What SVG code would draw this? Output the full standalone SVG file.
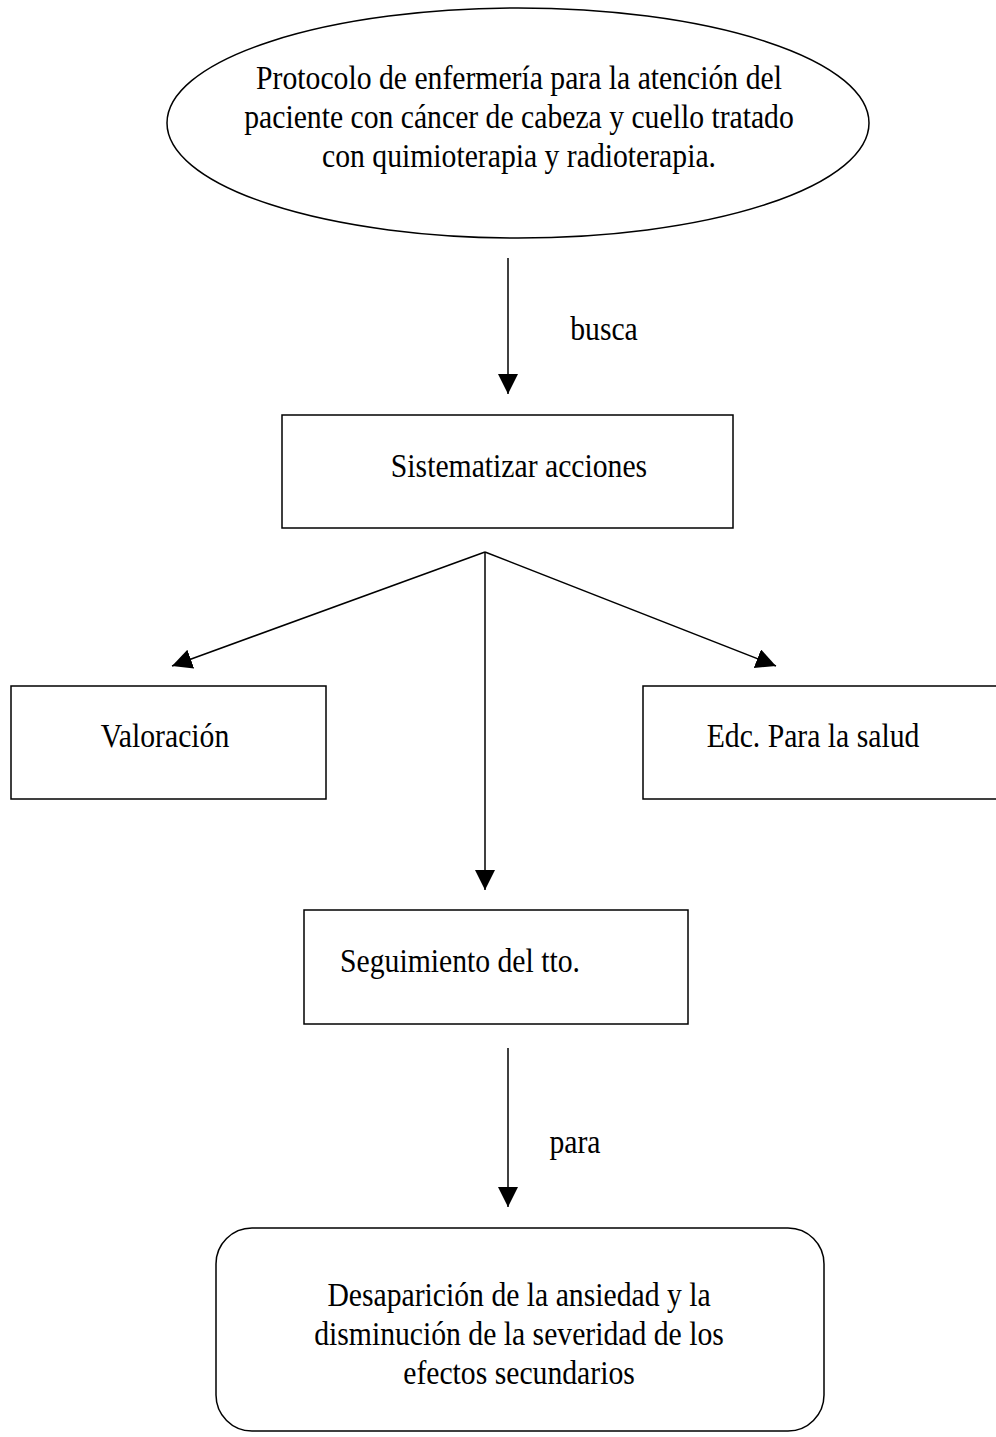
<svg xmlns="http://www.w3.org/2000/svg" width="996" height="1437" viewBox="0 0 996 1437">
<style>
.s{fill:#fff;stroke:#000;stroke-width:1.5}
.t{font-family:"Liberation Serif","Times New Roman",serif;font-size:33px;fill:#000;text-anchor:middle}
.c{stroke:#000;stroke-width:1.5;fill:none;marker-end:url(#ah)}
</style>
<defs>
<marker id="ah" markerUnits="userSpaceOnUse" markerWidth="20" markerHeight="24" refX="20" refY="10" orient="auto">
<path d="M0,0 L20,10 L0,20 Z" fill="#000"/>
</marker>
</defs>
<rect width="996" height="1437" fill="#fff"/>
<g id="connectors">
<line class="c" x1="508" y1="258" x2="508" y2="394"/>
<line class="c" x1="485" y1="552" x2="172" y2="666"/>
<line class="c" x1="485" y1="552" x2="776" y2="666"/>
<line class="c" x1="485" y1="552" x2="485" y2="890"/>
<line class="c" x1="508" y1="1048" x2="508" y2="1207"/>
<text class="t" transform="translate(604,340) scale(0.9,1)">busca</text>
<text class="t" transform="translate(575,1153) scale(0.9,1)">para</text>
</g>
<g id="protocolo">
<ellipse class="s" cx="518" cy="123" rx="351" ry="115"/>
<text class="t" transform="translate(519,89) scale(0.9,1)">Protocolo de enfermería para la atención del</text>
<text class="t" transform="translate(519,128) scale(0.9,1)">paciente con cáncer de cabeza y cuello tratado</text>
<text class="t" transform="translate(519,167) scale(0.9,1)">con quimioterapia y radioterapia.</text>
</g>
<g id="sistematizar">
<rect class="s" x="282" y="415" width="451" height="113"/>
<text class="t" transform="translate(519,477) scale(0.9,1)">Sistematizar acciones</text>
</g>
<g id="valoracion">
<rect class="s" x="11" y="686" width="315" height="113"/>
<text class="t" transform="translate(165,747) scale(0.9,1)">Valoración</text>
</g>
<g id="educacion">
<rect class="s" x="643" y="686" width="360" height="113"/>
<text class="t" transform="translate(813,747) scale(0.9,1)">Edc. Para la salud</text>
</g>
<g id="seguimiento">
<rect class="s" x="304" y="910" width="384" height="114"/>
<text class="t" transform="translate(460,972) scale(0.9,1)">Seguimiento del tto.</text>
</g>
<g id="desaparicion">
<rect class="s" x="216" y="1228" width="608" height="203" rx="36" ry="36"/>
<text class="t" transform="translate(519,1306) scale(0.9,1)">Desaparición de la ansiedad y la</text>
<text class="t" transform="translate(519,1345) scale(0.9,1)">disminución de la severidad de los</text>
<text class="t" transform="translate(519,1384) scale(0.9,1)">efectos secundarios</text>
</g>
</svg>
